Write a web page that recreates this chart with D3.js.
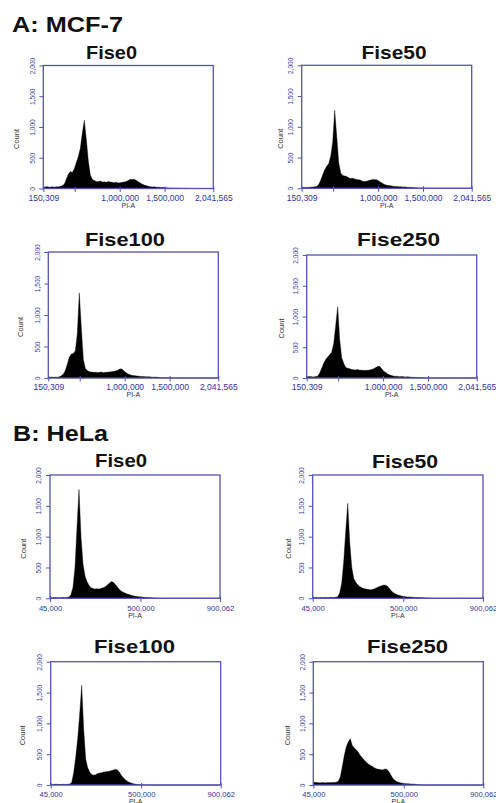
<!DOCTYPE html>
<html><head><meta charset="utf-8">
<script src="https://cdn.jsdelivr.net/npm/d3@7"></script>
<style>body{margin:0;background:#fff}svg{display:block}</style>
</head><body>
<script>
// ---------- data ----------
const groupTitles = ["A: MCF-7", "B: HeLa"];
const treatments = ["Fise0", "Fise50", "Fise100", "Fise250"];
const mcfRange = [150309, 2041565];
const helaRange = [45000, 900062];
const mcfXTicks = [150309, 500000, 1000000, 1500000, 2041565];
const mcfXTickLabels = ["150,309", "", "1,000,000", "1,500,000", "2,041,565"];
const helaXTicks = [45000, 500000, 900062];
const helaXTickLabels = ["45,000", "500,000", "900,062"];
const countTicks = [0, 500, 1000, 1500, 2000];
const countTickLabels = ["0", "500", "1,000", "1,500", "2,000"];
const xAxisTitle = "PI-A";
const yAxisTitle = "Count";

// histogram counts (85 equal-width bins across each x range)
const mcf7Fise0 = [
  20, 30, 25, 20, 28, 22, 30, 25, 35, 45,
  70, 150, 230, 275, 260, 320, 420, 520, 650, 900,
  1110, 800, 450, 220, 150, 130, 115, 110, 120, 105,
  110, 100, 115, 105, 100, 95, 100, 90, 95, 100,
  105, 115, 130, 150, 145, 150, 130, 110, 90, 70,
  55, 45, 35, 30, 25, 28, 20, 22, 18, 15,
  15, 12, 10, 8, 10, 6, 8, 5, 6, 4,
  5, 3, 4, 2, 3, 0, 2, 0, 0, 0,
  0, 0, 0, 0, 0];
const mcf7Fise50 = [
  10, 12, 15, 12, 18, 20, 25, 30, 60, 130,
  220, 300, 360, 400, 520, 750, 1270, 850, 420, 250,
  210, 200, 190, 170, 160, 165, 150, 145, 140, 130,
  115, 110, 115, 125, 135, 145, 140, 140, 120, 100,
  80, 60, 50, 45, 40, 35, 30, 28, 25, 25,
  20, 22, 18, 15, 12, 15, 10, 8, 5, 4,
  3, 2, 2, 1, 0, 1, 0, 0, 0, 0,
  0, 0, 0, 0, 0, 0, 0, 0, 0, 0,
  0, 0, 0, 0, 0];
const mcf7Fise100 = [
  12, 15, 10, 15, 12, 18, 35, 60, 120, 220,
  330, 380, 390, 430, 700, 1350, 800, 300, 150, 120,
  100, 95, 90, 92, 88, 90, 95, 85, 90, 92,
  95, 100, 105, 110, 120, 140, 145, 125, 90, 70,
  55, 45, 40, 35, 30, 28, 25, 22, 20, 18,
  20, 15, 12, 15, 10, 8, 5, 4, 3, 2,
  2, 1, 0, 1, 0, 0, 0, 0, 0, 0,
  0, 0, 0, 0, 0, 0, 0, 0, 0, 0,
  0, 0, 0, 0, 0];
const mcf7Fise250 = [
  20, 25, 22, 18, 25, 30, 80, 160, 240, 300,
  340, 380, 420, 560, 850, 1160, 620, 330, 240, 170,
  160, 150, 140, 135, 130, 140, 125, 130, 120, 125,
  125, 130, 140, 150, 170, 185, 190, 150, 110, 90,
  65, 50, 40, 30, 28, 25, 22, 25, 20, 18,
  20, 15, 12, 10, 10, 8, 5, 4, 3, 2,
  2, 1, 1, 0, 0, 0, 0, 0, 0, 0,
  0, 0, 0, 0, 0, 0, 0, 0, 0, 0,
  0, 0, 0, 0, 0];
const helaFise0 = [
  8, 10, 12, 8, 10, 8, 12, 10, 15, 20,
  60, 180, 500, 1150, 1765, 1000, 560, 360, 270, 210,
  170, 160, 150, 155, 150, 160, 170, 185, 210, 240,
  270, 265, 230, 190, 150, 120, 100, 85, 70, 60,
  50, 40, 35, 30, 25, 20, 18, 15, 12, 10,
  8, 6, 5, 3, 2, 2, 1, 0, 0, 0,
  0, 0, 0, 0, 0, 0, 0, 0, 0, 0,
  0, 0, 0, 0, 0, 0, 0, 0, 0, 0,
  0, 0, 0, 0, 0];
const helaFise50 = [
  10, 12, 8, 10, 12, 10, 15, 10, 12, 15,
  12, 18, 25, 90, 250, 600, 1100, 1540, 900, 500,
  320, 260, 220, 190, 170, 160, 150, 145, 140, 140,
  150, 165, 180, 195, 205, 215, 210, 190, 150, 110,
  85, 70, 55, 45, 35, 28, 25, 20, 22, 18,
  15, 15, 12, 10, 10, 8, 6, 5, 5, 3,
  2, 1, 0, 0, 0, 0, 0, 0, 0, 0,
  0, 0, 0, 0, 0, 0, 0, 0, 0, 0,
  0, 0, 0, 0, 0];
const helaFise100 = [
  8, 10, 12, 10, 8, 10, 12, 10, 12, 15,
  40, 200, 450, 750, 1150, 1620, 900, 420, 280, 210,
  170, 160, 165, 185, 195, 200, 210, 215, 220, 225,
  235, 245, 255, 240, 200, 150, 110, 80, 55, 40,
  28, 20, 12, 8, 5, 3, 2, 1, 0, 0,
  0, 0, 0, 0, 0, 0, 0, 0, 0, 0,
  0, 0, 0, 0, 0, 0, 0, 0, 0, 0,
  0, 0, 0, 0, 0, 0, 0, 0, 0, 0,
  0, 0, 0, 0, 0];
const helaFise250 = [
  45, 40, 38, 35, 40, 38, 35, 40, 38, 42,
  40, 45, 60, 130, 300, 480, 620, 700, 750, 640,
  600, 570, 530, 480, 440, 400, 370, 340, 320, 300,
  280, 265, 255, 250, 245, 255, 260, 230, 180, 120,
  80, 60, 45, 35, 30, 25, 20, 20, 18, 15,
  12, 10, 5, 3, 2, 0, 0, 0, 0, 0,
  0, 0, 0, 0, 0, 0, 0, 0, 0, 0,
  0, 0, 0, 0, 0, 0, 0, 0, 0, 0,
  0, 0, 0, 0, 0];

// ---------- layout ----------
const W = 496, H = 803;
const AXIS_COLOR = "#5252bc", TICK_TEXT = "#3232a2", LABEL_COLOR = "#333";
const FONT = "'Liberation Sans', Arial, Helvetica, sans-serif";

const groups = [
  {title: groupTitles[0], x: 12, y: 31.7, w: 111, range: mcfRange, ticks: mcfXTicks, labels: mcfXTickLabels, tfs: 8.5},
  {title: groupTitles[1], x: 13, y: 440.7, w: 95, range: helaRange, ticks: helaXTicks, labels: helaXTickLabels, tfs: 7.6}
];
const panels = [
  {g: 0, t: 0, data: mcf7Fise0,   box: [43.3, 65.5, 213.3, 188.5],  title: [111.5, 59, 51], cdx: -24},
  {g: 0, t: 1, data: mcf7Fise50,  box: [301.7, 65.3, 471.7, 188.3], title: [394, 59, 65], cdx: -19},
  {g: 0, t: 2, data: mcf7Fise100, box: [48.3, 252, 218.3, 378],     title: [125, 246, 80], cdx: -25},
  {g: 0, t: 3, data: mcf7Fise250, box: [306.7, 255, 476.7, 378],    title: [398.5, 246, 83], cdx: -23},
  {g: 1, t: 0, data: helaFise0,   box: [50, 475, 220, 598.3],       title: [121, 467, 52], cdx: -24.5},
  {g: 1, t: 1, data: helaFise50,  box: [312.7, 475, 483, 598.3],    title: [405, 468, 66], cdx: -22},
  {g: 1, t: 2, data: helaFise100, box: [50.7, 661.7, 220.7, 785],   title: [134.5, 653, 81], cdx: -26},
  {g: 1, t: 3, data: helaFise250, box: [313.3, 661.7, 483.3, 785],  title: [407.5, 653, 81], cdx: -23}
];

const svg = d3.select("body").append("svg").attr("width", W).attr("height", H)
  .style("font-family", FONT);

groups.forEach(g => {
  svg.append("text").attr("x", g.x).attr("y", g.y)
    .attr("font-size", 22).attr("font-weight", "bold").attr("fill", "#111")
    .attr("textLength", g.w).attr("lengthAdjust", "spacingAndGlyphs")
    .text(g.title);
});

panels.forEach(p => {
  const g = groups[p.g];
  const [x0, y0, x1, y1] = p.box;
  const x = d3.scaleLinear().domain(g.range).range([x0, x1]);
  const y = d3.scaleLinear().domain([0, 2000]).range([y1, y0]);
  const n = p.data.length;
  const step = (g.range[1] - g.range[0]) / n;
  const pts = p.data.map((c, i) => ({v: g.range[0] + (i + 0.5) * step, c}));
  pts.unshift({v: g.range[0], c: p.data[0]});
  pts.push({v: g.range[1], c: 0});

  const area = d3.area().x(d => x(d.v)).y0(y(0)).y1(d => y(d.c)).curve(d3.curveLinear);
  svg.append("path").datum(pts).attr("d", area).attr("fill", "#000")
    .attr("stroke", "#000").attr("stroke-width", 0.4).attr("stroke-linejoin", "miter");

  // panel title
  svg.append("text").attr("x", p.title[0]).attr("y", p.title[1])
    .attr("text-anchor", "middle").attr("font-size", 19).attr("font-weight", "bold")
    .attr("fill", "#111").attr("textLength", p.title[2]).attr("lengthAdjust", "spacingAndGlyphs")
    .text(treatments[p.t]);

  // y axis
  const yAxis = d3.axisLeft(y).tickValues(countTicks).tickSize(4)
    .tickFormat((d, i) => countTickLabels[i]);
  const ya = svg.append("g").attr("transform", `translate(${x0},0)`).call(yAxis);
  ya.select(".domain").remove();
  ya.selectAll(".tick line").attr("stroke", AXIS_COLOR).attr("stroke-width", 1);
  ya.selectAll(".tick text").attr("x", null).attr("dy", null)
    .attr("transform", "translate(-8.6,0) rotate(-90) scale(0.82,1)")
    .attr("text-anchor", "middle").attr("font-size", 8).attr("fill", TICK_TEXT)
    .style("font-family", FONT);

  // x axis
  const xAxis = d3.axisBottom(x).tickValues(g.ticks).tickSize(3)
    .tickFormat((d, i) => g.labels[i]);
  const xa = svg.append("g").attr("transform", `translate(0,${y1})`).call(xAxis);
  xa.select(".domain").remove();
  xa.selectAll(".tick line").attr("y1", -2).attr("y2", 3.5).attr("stroke", AXIS_COLOR).attr("stroke-width", 1);
  xa.selectAll(".tick text").attr("y", 12.3).attr("dy", null)
    .attr("font-size", g.tfs).attr("fill", TICK_TEXT).style("font-family", FONT);

  // frame
  svg.append("rect").attr("x", x0).attr("y", y0).attr("width", x1 - x0).attr("height", y1 - y0)
    .attr("fill", "none").attr("stroke", AXIS_COLOR).attr("stroke-width", 1.3);

  // axis titles
  svg.append("text").attr("x", (x0 + x1) / 2).attr("y", y1 + 19.3)
    .attr("text-anchor", "middle").attr("font-size", 7).attr("fill", LABEL_COLOR)
    .text(xAxisTitle);
  svg.append("text")
    .attr("transform", `translate(${x0 + p.cdx},${(y0 + y1) / 2 + 12}) rotate(-90)`)
    .attr("text-anchor", "middle").attr("font-size", 7.5).attr("fill", LABEL_COLOR)
    .text(yAxisTitle);
});
</script>
</body></html>
